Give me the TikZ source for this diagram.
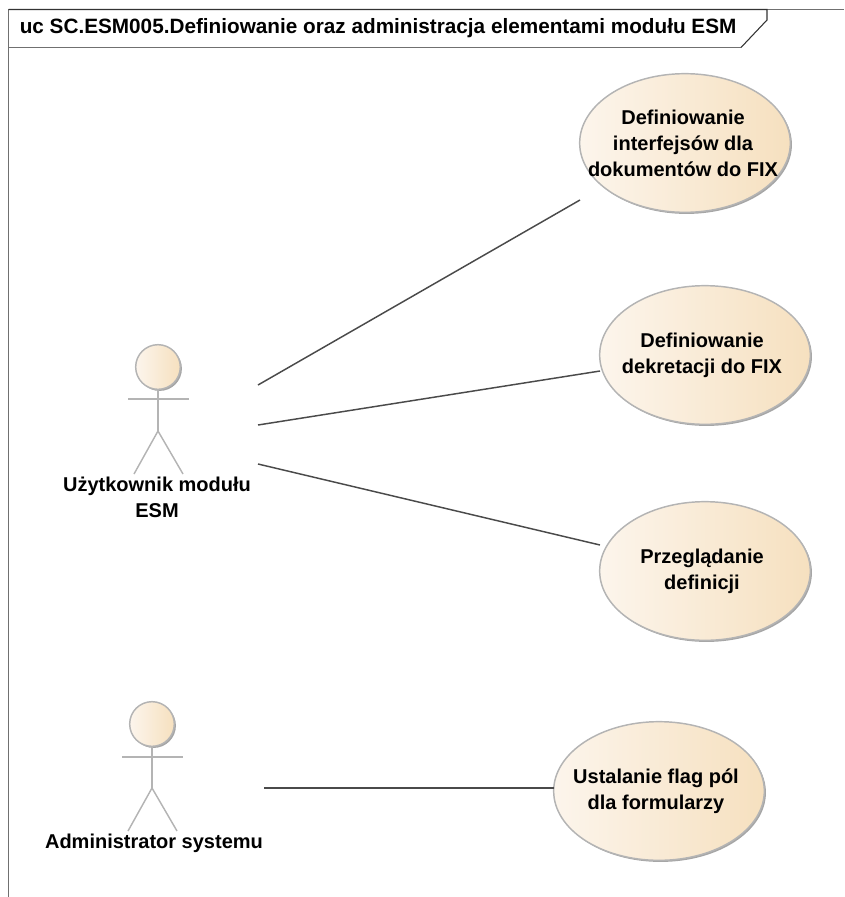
\documentclass[tikz,border=0pt]{standalone}
\usepackage{fontspec}
\setmainfont{Liberation Sans}
\usetikzlibrary{shapes.geometric,shadows}
\definecolor{framec}{HTML}{707070}
\definecolor{darkc}{HTML}{333333}
\definecolor{edgec}{HTML}{B4B4B4}
\definecolor{fillL}{HTML}{FCF5EC}
\definecolor{fillR}{HTML}{F6E0BF}
\definecolor{linec}{HTML}{4A4A4A}
\tikzset{
  x=0.75pt,y=-0.75pt,
  usecase/.style={ellipse,draw=edgec,line width=1.1pt,left color=fillL,right color=fillR,shading angle=90,
    inner sep=0pt,minimum width=158pt,minimum height=104pt,
    drop shadow={shadow xshift=1.2pt,shadow yshift=-1.2pt,fill=black!35,opacity=1}},
  head/.style={circle,draw=edgec,line width=1.1pt,left color=fillL,right color=fillR,shading angle=90,
    inner sep=0pt,minimum size=33.5pt,
    drop shadow={shadow xshift=1.2pt,shadow yshift=-1.2pt,fill=black!35,opacity=1}},
  limb/.style={draw=edgec,line width=1.1pt},
  assoc/.style={draw=linec,line width=1.1pt},
  framel/.style={draw=framec,line width=1.1pt},
  titleline/.style={draw=darkc,line width=0.8pt},
  lab/.style={font=\bfseries\fontsize{15}{19.4}\selectfont,text=black,align=center,inner sep=0pt},
}
\begin{document}
\begin{tikzpicture}
\useasboundingbox (0,0) rectangle (844,897);
% frame
\coordinate (fbl) at (8.5,897);
\coordinate (ftl) at (8.5,9.5);
\coordinate (ftr) at (844,9.5);
\coordinate (tbr) at (767,9.5);
\coordinate (tbk) at (767,20);
\coordinate (tbs) at (741,47.5);
\coordinate (tbl) at (8.5,47.5);
\draw[framel] (fbl) -- (ftl) -- (ftr);
\draw[framel] (tbl) -- (tbs);
\draw[titleline] (ftl) -- (tbr) -- (tbk) -- (tbs);
\node[lab,anchor=base west,font=\bfseries\fontsize{15.55}{19}\selectfont] (title) at (19.5,33) {uc SC.ESM005.Definiowanie oraz administracja elementami modułu ESM};
% use cases
\node[usecase] (e1) at (685,143) {};
\node[usecase] (e2) at (705,355) {};
\node[usecase] (e3) at (705,571) {};
\node[usecase] (e4) at (659,791) {};
\node[lab] (t1) at (683,143) {Definiowanie\\interfejsów dla\\dokumentów do FIX};
\node[lab] (t2) at (702,355) {Definiowanie\\dekretacji do FIX};
\node[lab] (t3) at (702,571) {Przeglądanie\\definicji};
\node[lab] (t4) at (656,791) {Ustalanie flag pól\\dla formularzy};
\coordinate (e1p) at (580,200);
\coordinate (e2p) at (600,371);
\coordinate (e3p) at (600,545);
\coordinate (e4p) at (554,788);
% actor 1
\node[head] (h1) at (158,367) {};
\coordinate (a1arml) at (128,399);
\coordinate (a1armr) at (189,399);
\coordinate (a1hip) at (158,431);
\coordinate (a1ll) at (134,474);
\coordinate (a1lr) at (183,474);
\draw[limb] (h1.south) -- (a1hip);
\draw[limb] (a1arml) -- (a1armr);
\draw[limb] (a1ll) -- (a1hip) -- (a1lr);
\node[lab,anchor=base] (l1) at (157,491) {Użytkownik modułu};
\node[lab,anchor=base] (l1b) at (157,517) {ESM};
% actor 2
\node[head] (h2) at (152,724) {};
\coordinate (a2arml) at (122,757);
\coordinate (a2armr) at (183,757);
\coordinate (a2hip) at (152,788);
\coordinate (a2ll) at (128,831);
\coordinate (a2lr) at (177,831);
\draw[limb] (h2.south) -- (a2hip);
\draw[limb] (a2arml) -- (a2armr);
\draw[limb] (a2ll) -- (a2hip) -- (a2lr);
\node[lab,anchor=base] (l2) at (154,848) {Administrator systemu};
% associations
\coordinate (s1) at (258,385);
\coordinate (s2) at (258,425);
\coordinate (s3) at (258,464);
\coordinate (s4) at (264,788);
\draw[assoc] (s1) -- (e1p);
\draw[assoc] (s2) -- (e2p);
\draw[assoc] (s3) -- (e3p);
\draw[assoc] (s4) -- (e4p);
\end{tikzpicture}
\end{document}
